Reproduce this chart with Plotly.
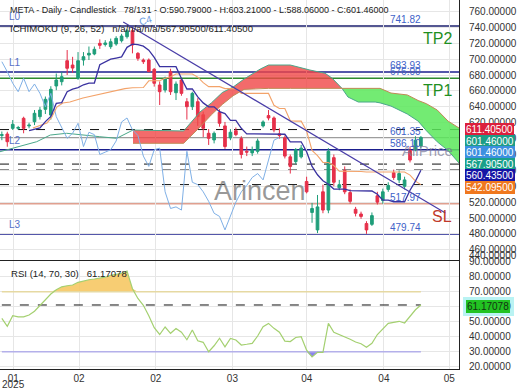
import plotly.graph_objects as go

# ---------------- data ----------------
opens = [604, 605.8, 612.9, 613, 625.6, 616, 621.3, 627.6, 636.9, 629.7,
         666.3, 671.7, 698.1, 692.7, 676, 699, 705.3, 706.6, 720, 718.5,
         715.8, 719.2, 723.3, 728.4, 735.9, 707.4, 699, 699, 687.3, 667.5,
         661.2, 684.3, 657.8, 673.8, 646.5, 640.2, 646.5, 630, 606.7, 598.3,
         633, 616, 601, 610, 600, 584, 582, 584, 616, 629,
         626, 606, 601, 577, 571, 577, 546, 507, 485, 533,
         510, 576, 538, 560, 532, 511, 505, 493, 492, 528,
         522, 536, 557, 548, 540, 585, 586, 590.79]
highs = [609, 608.7, 623.4, 616, 627.6, 620, 636, 640, 653, 666,
         682, 684, 711.6, 703, 709, 709, 716, 716, 725, 724,
         726, 729, 732, 738, 738.9, 709, 701, 701, 689, 672,
         678, 688, 672, 676, 651, 659, 651, 634, 612, 609,
         637, 621, 612, 614, 603, 590, 590, 600, 623, 636,
         628, 613, 604, 580, 588, 592, 552, 519, 529, 542,
         588, 580, 548, 565, 536, 514, 508, 496, 507, 533,
         537, 545, 561, 560, 552, 590, 603, 603.21]
lows = [598, 589.8, 610.8, 611, 606.7, 613, 617, 624, 631, 624,
        661, 667, 680.1, 683, 674, 692, 699, 705, 713, 716,
        713, 717, 721, 726, 707.4, 698, 694, 684, 665.5, 642.3,
        658, 655, 648.6, 654, 624, 636, 616, 602, 592, 594,
        615, 587, 598, 603, 575, 578, 578, 581, 614, 623,
        608, 600, 575, 556, 568, 575, 531, 494, 481, 506,
        506, 540, 535, 530, 518, 502, 499, 480, 490, 517,
        518, 533, 548, 544, 536, 570, 584, 588.06]
closes = [605, 596.1, 618.0, 614, 612.9, 617, 631.9, 636, 649.5, 662.1,
          673.8, 678, 688.6, 688.9, 698.1, 703.2, 707.5, 712.5, 717.5, 720.5,
          722, 726.3, 729.2, 735.9, 717.9, 701.1, 696.9, 684.3, 669.7, 659.1,
          676, 659.1, 668.8, 657, 640.2, 657, 627.6, 613, 600.4, 606.7,
          619.3, 590, 608, 605, 580, 583, 586, 597, 621, 626,
          611, 604, 578, 565, 586, 588, 533, 512, 514, 510,
          584, 545, 542, 533, 521, 506, 502, 485, 503, 520,
          533, 541, 551, 556, 548, 573, 598, 601.46]

rsi = [52.3, 47, 54, 53.3, 53.3, 54.5, 57, 61, 65, 68.5,
       71.3, 73.3, 74, 74.5, 76.3, 77.3, 78, 78.5, 78.9, 79.7,
       81, 81.8, 82.2, 83.8, 72, 65.5, 61, 54, 46, 41.5,
       46.5, 42.3, 45.5, 43, 38, 44.5, 37.3, 36.3, 30, 34,
       39, 33.3, 38.9, 37.8, 34.5, 35, 35.6, 40.5, 46.7, 48.9,
       45.6, 43, 37.1, 36.8, 39.5, 40, 31, 26.5, 29.6, 29.6,
       48.9, 43, 41.5, 40.3, 38.3, 36.5, 35.3, 33, 35.6, 41.5,
       45, 48.9, 49.6, 50.3, 49.2, 54, 58, 61.17078]

tick_pos = [2.1, 14.18, 28.28, 42.36, 56.04, 70.2, 82.2]
tick_text = ["01", "02", "02", "03", "04", "04", "05"]
year_label = "2025"

# Ichimoku pieces that need history before the first visible bar
tenkan_early_x = [5.0, 7.0]
tenkan_early = [610.0, 613.4]
kijun_early_x = [5.7, 8.3, 9.2, 10.1, 11.2, 12.5, 14.9, 17.5, 19.9, 22.6, 24.0]
kijun_early = [613.4, 619.7, 627.2, 639.8, 644.9, 646.1, 651.2, 654.9, 658.7, 663.0, 664.0]
span_a_early_x = [-0.34, 3.3, 6.4, 8.9, 11.9, 18.0, 21.1]
span_a_early = [583.5, 589.8, 596.1, 604.5, 606.7, 602.4, 600.4]
cloud_x = [24.1, 33.4, 36.4, 38.5, 40.5, 42.5, 44.5, 47.5, 49.0, 53.0, 56.6, 59.4, 60.7,
           61.8, 62.5, 63.6, 65.5, 68.6, 69.5, 71.5, 74.5, 76.5, 78.0, 80.0, 82.0, 84.0]
span_a = [610.8, 609.6, 633.5, 645.0, 658.0, 665.0, 675.0, 687.7, 692.7, 692.7, 686.4, 682.3, 676.0,
          667.5, 663.3, 652.4, 646.1, 646.1, 645.0, 641.0, 631.0, 622.0, 610.0, 596.0, 585.0, 569.3]
span_b = [594.1, 594.1, 614.6, 630.0, 643.0, 654.0, 662.0, 663.3, 663.3, 663.3, 663.3, 663.3, 663.3,
          663.3, 663.3, 663.3, 663.3, 663.3, 663.3, 657.4, 655.0, 648.0, 644.0, 636.0, 622.0, 613.4]

trend_x = [22.3, 81.5]
trend_y = [746.9, 506.3]

level_vals = [741.82, 683.93, 676.00, 601.35, 586.10, 517.97, 479.74]
level_text = ["741.82", "683.93", "676.00", "601.35", "586.10", "517.97", "479.74"]
level_cols = ["#1b1f6e", "#1b1f8e", "#2e8b2e", "#9a9a9a", "#1b1f8e", "#e0a090", "#1b1f8e"]
left_names = ["L0", "L1", "L2", "L3"]
left_vals = [741.82, 683.93, 586.10, 479.74]
big_names = ["TP2", "TP1", "SL"]
big_vals = [741.82, 676.00, 517.97]
dashed_vals = [611.405, 567.905, 560.435, 542.095]

box_texts = ["611.40500", "601.46000", "601.46000", "567.90500", "560.43500", "542.09500"]
box_cols = ["#dc1f3c", "#1d9d86", "#3d8fe0", "#19a08a", "#1515a5", "#f0781e"]

# ---------------- derived indicators ----------------
n = len(closes)
idx = list(range(n))


def midline(period):
    xs, ys = [], []
    for j in range(period - 1, n):
        xs.append(j)
        ys.append((max(highs[j - period + 1:j + 1]) + min(lows[j - period + 1:j + 1])) / 2)
    return xs, ys


tk_x, tk_y = midline(9)
kj_x, kj_y = midline(26)
tk_x = tenkan_early_x + tk_x
tk_y = tenkan_early + tk_y
kj_x = kijun_early_x + kj_x
kj_y = kijun_early + kj_y
ch_x = [j - 26 for j in range(26, n)]
ch_y = closes[26:]

GREEN = "#1f9e7a"
RED = "#e6304a"
FONT = "Liberation Sans, Arial, sans-serif"

fig = go.Figure()


def runs(cond):
    out, cur = [], []
    for k in range(len(cloud_x)):
        if cond(k):
            cur.append(k)
        else:
            if len(cur) > 1:
                out.append(cur)
            cur = []
    if len(cur) > 1:
        out.append(cur)
    return out


for run in runs(lambda k: span_a[k] >= span_b[k]):
    xs = [cloud_x[k] for k in run] + [cloud_x[k] for k in reversed(run)]
    ys = [span_a[k] for k in run] + [span_b[k] for k in reversed(run)]
    fig.add_trace(go.Scatter(x=xs, y=ys, fill="toself", fillcolor="rgba(240,70,70,0.8)",
                             line=dict(width=0), mode="lines", hoverinfo="skip"))
for run in runs(lambda k: span_b[k] >= span_a[k]):
    xs = [cloud_x[k] for k in run] + [cloud_x[k] for k in reversed(run)]
    ys = [span_b[k] for k in run] + [span_a[k] for k in reversed(run)]
    fig.add_trace(go.Scatter(x=xs, y=ys, fill="toself", fillcolor="rgba(90,232,90,0.85)",
                             line=dict(width=0), mode="lines", hoverinfo="skip"))

fig.add_trace(go.Scatter(x=span_a_early_x + cloud_x, y=span_a_early + span_a, mode="lines",
                         line=dict(color="#4aa88a", width=1), hoverinfo="skip"))
fig.add_trace(go.Scatter(x=cloud_x, y=span_b, mode="lines",
                         line=dict(color="#c08a55", width=1), hoverinfo="skip"))

for v, c in zip(level_vals, level_cols):
    fig.add_shape(type="line", xref="x domain", x0=0, x1=1, yref="y", y0=v, y1=v,
                  line=dict(color=c, width=1.5 if c != "#9a9a9a" else 1), layer="below")
for v in dashed_vals:
    fig.add_shape(type="line", xref="x domain", x0=0, x1=1, yref="y", y0=v, y1=v,
                  line=dict(color="#111", width=1, dash="dash"), layer="below")

fig.add_trace(go.Scatter(x=ch_x, y=ch_y, mode="lines", line=dict(color="#7fb0e6", width=1), hoverinfo="skip"))
fig.add_trace(go.Scatter(x=kj_x, y=kj_y, mode="lines", line=dict(color="#f3a36a", width=1.1), hoverinfo="skip"))
fig.add_trace(go.Scatter(x=tk_x, y=tk_y, mode="lines", line=dict(color="#3a32a0", width=1.3), hoverinfo="skip"))

fig.add_trace(go.Scatter(x=trend_x, y=trend_y, mode="lines", line=dict(color="#4a3ea8", width=1.2), hoverinfo="skip"))

fig.add_trace(go.Candlestick(x=idx, open=opens, high=highs, low=lows, close=closes,
                             increasing=dict(line=dict(color=GREEN, width=1), fillcolor=GREEN),
                             decreasing=dict(line=dict(color=RED, width=1), fillcolor=RED),
                             whiskerwidth=0, hoverinfo="skip", xaxis="x", yaxis="y"))

# RSI panel
fig.add_trace(go.Scatter(x=[idx[0], idx[-1]], y=[70, 70], mode="lines", line=dict(color="#e6d9a2", width=1.5),
                         xaxis="x2", yaxis="y2", hoverinfo="skip"))
fig.add_trace(go.Scatter(x=idx, y=[max(v, 70) for v in rsi], mode="lines", line=dict(width=0),
                         fill="tonexty", fillcolor="rgba(246,196,90,0.85)", xaxis="x2", yaxis="y2", hoverinfo="skip"))
fig.add_trace(go.Scatter(x=[idx[0], idx[-1]], y=[30, 30], mode="lines", line=dict(color="#b4b0ea", width=1.5),
                         xaxis="x2", yaxis="y2", hoverinfo="skip"))
fig.add_trace(go.Scatter(x=idx, y=[min(v, 30) for v in rsi], mode="lines", line=dict(width=0),
                         fill="tonexty", fillcolor="rgba(120,110,230,0.85)", xaxis="x2", yaxis="y2", hoverinfo="skip"))
fig.add_trace(go.Scatter(x=[idx[0], idx[-1]], y=[rsi[-1], rsi[-1]], mode="lines",
                         line=dict(color="#111", width=1, dash="dash"), xaxis="x2", yaxis="y2", hoverinfo="skip"))
fig.add_trace(go.Scatter(x=idx, y=rsi, mode="lines", line=dict(color="#a4d070", width=1.2),
                         xaxis="x2", yaxis="y2", hoverinfo="skip"))

W, H = 520, 390
XR = 459 / W

ann = []


def px(x):
    return x / W


def py(y):
    return 1 - y / H


ann.append(dict(x=px(260), y=py(191), xref="paper", yref="paper", text="Arincen", showarrow=False,
                font=dict(size=27, color="rgba(120,120,120,0.75)", family=FONT)))
ann.append(dict(x=px(400), y=py(150), xref="paper", yref="paper", xanchor="left", text="AllPrice", showarrow=False,
                font=dict(size=15, color="rgba(120,120,150,0.7)", family=FONT)))

ann.append(dict(x=px(8), y=py(10), xref="paper", yref="paper", xanchor="left", yanchor="middle", showarrow=False,
                text="META - Daily - Candlestick   78/131 - O:590.79000 - H:603.21000 - L:588.06000 - C:601.46000",
                font=dict(size=9, color="#222", family=FONT)))
ann.append(dict(x=px(8), y=py(29), xref="paper", yref="paper", xanchor="left", yanchor="middle", showarrow=False,
                text="ICHIMOKU (9, 26, 52)   n/a/n/a/n/a/567.90500/611.40500",
                font=dict(size=9.6, color="#222", family=FONT)))
ann.append(dict(x=px(135), y=py(11), xref="paper", yref="paper", showarrow=False, text="C4", textangle=-15,
                font=dict(size=10, color="#6a9ce0", family=FONT)))
ann.append(dict(x=px(9), y=py(273), xref="paper", yref="paper", xanchor="left", yanchor="middle", showarrow=False,
                text="RSI (14, 70, 30)   61.17078", font=dict(size=9.6, color="#222", family=FONT)))
ann.append(dict(x=tick_pos[0], y=py(384), xref="x2", yref="paper", xanchor="center", yanchor="middle",
                showarrow=False, text=year_label, font=dict(size=10, color="#333", family=FONT)))

for v, t in zip(level_vals, level_text):
    ann.append(dict(x=px(423), y=v, xref="paper", yref="y", xanchor="right", yanchor="middle", yshift=6.5,
                    showarrow=False, text=t, font=dict(size=10, color="#4062c8", family=FONT)))
for v, t in zip(left_vals, left_names):
    ann.append(dict(x=px(7), y=v, xref="paper", yref="y", xanchor="left", yanchor="middle", yshift=9.5,
                    showarrow=False, text=t, font=dict(size=10, color="#5670c8", family=FONT)))
for v, t in zip(big_vals, big_names):
    ann.append(dict(x=px(454), y=v, xref="paper", yref="y", xanchor="right", yanchor="middle", yshift=-12.5,
                    showarrow=False, text=t,
                    font=dict(size=16, color="#c0392b" if t == "SL" else "#1f8f1f", family=FONT)))

box_y = [129.2, 141, 152.3, 164, 176, 187.3]
for t, c, y in zip(box_texts, box_cols, box_y):
    ann.append(dict(x=px(465), y=py(y), xref="paper", yref="paper", xanchor="left", yanchor="middle",
                    showarrow=False, text=t, bgcolor=c, bordercolor=c, borderpad=0,
                    font=dict(size=10, color="white", family=FONT)))
ann.append(dict(x=px(466), y=py(306.5), xref="paper", yref="paper", xanchor="left", yanchor="middle",
                showarrow=False, text="61.17078", bgcolor="#22c322", bordercolor="#22c322", borderpad=0,
                font=dict(size=10, color="#123312", family=FONT)))
ann.append(dict(x=px(467), y=py(255), xref="paper", yref="paper", xanchor="left", yanchor="middle",
                showarrow=False, text="440.00000", font=dict(size=10, color="#333", family=FONT)))

shapes_extra = [dict(type="rect", xref="paper", yref="paper", x0=px(463), x1=px(514), y0=py(316), y1=py(297),
                     fillcolor="#b9f3f3", line=dict(width=0), layer="below")]

fig.update_layout(
    width=W, height=H, margin=dict(l=0, r=0, t=0, b=0),
    paper_bgcolor="white", plot_bgcolor="white", showlegend=False,
    font=dict(family=FONT, size=10, color="#333"),
    xaxis=dict(domain=[0, XR], range=[-0.34, 84.0], tickvals=tick_pos, showticklabels=False,
               showgrid=True, gridcolor="#e6e6e6", zeroline=False, showline=True, linecolor="#222",
               rangeslider=dict(visible=False), anchor="y"),
    yaxis=dict(domain=[1 - 260 / H, 1], range=[447.1, 774.6], side="right",
               tickvals=list(range(460, 761, 20)), ticktext=[f"{v:.5f}" for v in range(460, 761, 20)],
               showgrid=True, gridcolor="#e6e6e6", zeroline=False, showline=True, linecolor="#222",
               ticks="", ticklabelstandoff=7, automargin=False, anchor="x", tickfont=dict(size=10, color="#333")),
    xaxis2=dict(domain=[0, XR], matches="x", anchor="y2", tickvals=tick_pos, ticktext=tick_text,
                showgrid=True, gridcolor="#e6e6e6", zeroline=False, showline=True, linecolor="#222",
                ticks="", automargin=False, tickfont=dict(size=10, color="#333")),
    yaxis2=dict(domain=[1 - 369 / H, 1 - 261 / H], range=[18.5, 90.5], side="right",
                tickvals=list(range(20, 91, 10)), ticktext=[f"{v:.5f}" for v in range(20, 91, 10)],
                showgrid=True, gridcolor="#e6e6e6", zeroline=False, showline=True, linecolor="#222",
                ticks="", ticklabelstandoff=7, automargin=False, anchor="x2", tickfont=dict(size=10, color="#333")),
    annotations=ann,
    shapes=list(fig.layout.shapes) + shapes_extra,
)

fig.write_html("out.html", config={"displayModeBar": False},
               post_script="document.body.style.margin='0';document.body.style.overflow='hidden';")
